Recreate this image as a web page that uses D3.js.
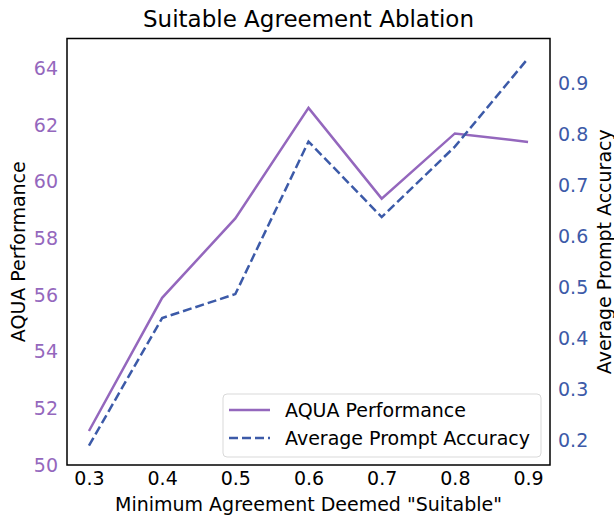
<!DOCTYPE html>
<html lang="en">
<head>
<meta charset="UTF-8"/>
<title>Suitable Agreement Ablation</title>
<script src="https://cdn.jsdelivr.net/npm/d3@7"></script>
<style>
body { margin: 0; background: #fff; }
text { font-family: "DejaVu Sans", sans-serif; }
</style>
</head>
<body>
<svg id="chart"></svg>
<script>
var width = 614, height = 516;

// data
var agreement = [0.3, 0.4, 0.5, 0.6, 0.7, 0.8, 0.9];
var aquaPerf = [51.2, 55.9, 58.7, 62.6, 59.4, 61.7, 61.4];
var promptAcc = [0.19, 0.44, 0.487, 0.786, 0.638, 0.776, 0.949];
var leftTicks = [50, 52, 54, 56, 58, 60, 62, 64];
var rightTicks = [0.2, 0.3, 0.4, 0.5, 0.6, 0.7, 0.8, 0.9];

var purple = "#9467bd", blue = "#3c5aa8";
var fs = 19;

var m = {left: 67, right: 64, top: 38.5, bottom: 51};
var svg = d3.select("#chart").attr("width", width).attr("height", height);

var x = d3.scaleLinear().domain([0.27, 0.93]).range([m.left, width - m.right]);
var yL = d3.scaleLinear().domain([50, 65.05]).range([height - m.bottom, m.top]);
var yR = d3.scaleLinear().domain([0.152, 0.988]).range([height - m.bottom, m.top]);

// axes (no tick marks, labels only)
var xAxis = svg.append("g")
	.attr("transform", "translate(0," + (height - m.bottom) + ")")
	.call(d3.axisBottom(x).tickValues(agreement).tickSize(0).tickPadding(7).tickFormat(d3.format(".1f")));
var lAxis = svg.append("g")
	.attr("transform", "translate(" + m.left + ",0)")
	.call(d3.axisLeft(yL).tickValues(leftTicks).tickSize(0).tickPadding(9));
var rAxis = svg.append("g")
	.attr("transform", "translate(" + (width - m.right) + ",0)")
	.call(d3.axisRight(yR).tickValues(rightTicks).tickSize(0).tickPadding(8).tickFormat(d3.format(".1f")));

[xAxis, lAxis, rAxis].forEach(function(a) {
	a.select(".domain").remove();
	a.selectAll("text").attr("font-family", "DejaVu Sans").attr("font-size", fs);
});
xAxis.selectAll("text").attr("fill", "#000");
lAxis.selectAll("text").attr("fill", purple);
rAxis.selectAll("text").attr("fill", blue);

// lines
var lineL = d3.line().x(function(d, i) { return x(agreement[i]); }).y(function(d) { return yL(d); });
var lineR = d3.line().x(function(d, i) { return x(agreement[i]); }).y(function(d) { return yR(d); });

svg.append("path").datum(aquaPerf)
	.attr("d", lineL).attr("fill", "none")
	.attr("stroke", purple).attr("stroke-width", 2.5);
svg.append("path").datum(promptAcc)
	.attr("d", lineR).attr("fill", "none")
	.attr("stroke", blue).attr("stroke-width", 2.5)
	.attr("stroke-dasharray", "9,4");

// frame
svg.append("rect")
	.attr("x", m.left).attr("y", m.top)
	.attr("width", width - m.left - m.right)
	.attr("height", height - m.top - m.bottom)
	.attr("fill", "none").attr("stroke", "#000").attr("stroke-width", 1.5);

// titles
svg.append("text").attr("x", (m.left + width - m.right) / 2).attr("y", 27)
	.attr("text-anchor", "middle").attr("font-size", 23).text("Suitable Agreement Ablation");
svg.append("text").attr("x", (m.left + width - m.right) / 2).attr("y", 511)
	.attr("text-anchor", "middle").attr("font-size", fs).text('Minimum Agreement Deemed "Suitable"');
svg.append("text")
	.attr("transform", "translate(25," + ((m.top + height - m.bottom) / 2) + ") rotate(-90)")
	.attr("text-anchor", "middle").attr("font-size", fs).text("AQUA Performance");
svg.append("text")
	.attr("transform", "translate(611," + ((m.top + height - m.bottom) / 2) + ") rotate(-90)")
	.attr("text-anchor", "middle").attr("font-size", fs).text("Average Prompt Accuracy");

// legend
var legendItems = [
	{label: "AQUA Performance", color: purple, dash: null},
	{label: "Average Prompt Accuracy", color: blue, dash: "9,4"}
];
var lg = svg.append("g").attr("transform", "translate(223,394)");
lg.append("rect").attr("width", 318).attr("height", 63).attr("rx", 4)
	.attr("fill", "#fff").attr("fill-opacity", 0.8)
	.attr("stroke", "#d9d9d9").attr("stroke-width", 1);
var li = lg.selectAll("g.item").data(legendItems).enter().append("g")
	.attr("class", "item")
	.attr("transform", function(d, i) { return "translate(0," + (16 + i * 28) + ")"; });
li.append("line").attr("x1", 6).attr("x2", 47).attr("y1", 0).attr("y2", 0)
	.attr("stroke", function(d) { return d.color; }).attr("stroke-width", 2.5)
	.attr("stroke-dasharray", function(d) { return d.dash; });
li.append("text").attr("x", 62).attr("y", 7).attr("font-size", fs)
	.text(function(d) { return d.label; });
</script>
</body>
</html>
